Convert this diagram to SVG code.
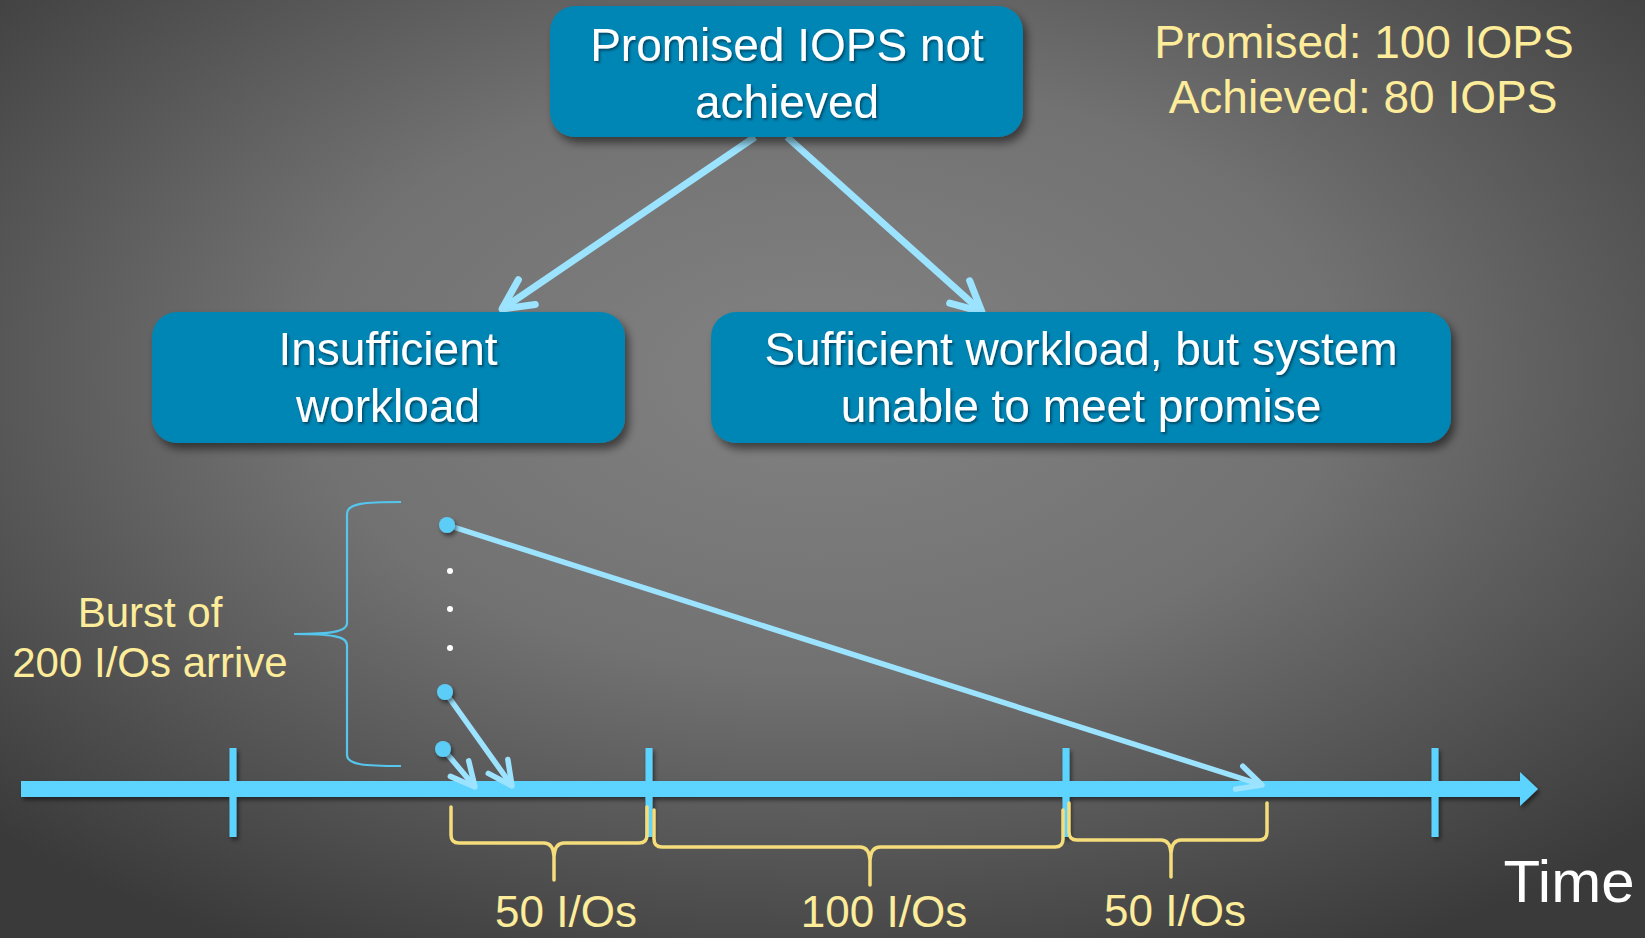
<svg xmlns="http://www.w3.org/2000/svg" width="1645" height="938" viewBox="0 0 1645 938">
<defs>
<radialGradient id="bg" cx="50%" cy="40%" r="70%">
<stop offset="0" stop-color="#828282"/>
<stop offset="0.45" stop-color="#727272"/>
<stop offset="1" stop-color="#3a3a3a"/>
</radialGradient>
<filter id="sh" x="-10%" y="-10%" width="125%" height="135%">
<feDropShadow dx="4" dy="6" stdDeviation="4" flood-color="#000" flood-opacity="0.5"/>
</filter>
<filter id="tsh" x="-5%" y="-10%" width="115%" height="130%">
<feDropShadow dx="1.5" dy="2" stdDeviation="1" flood-color="#002030" flood-opacity="0.6"/>
</filter>
<filter id="dsh" x="-50%" y="-50%" width="200%" height="200%">
<feDropShadow dx="2" dy="3" stdDeviation="2" flood-color="#000" flood-opacity="0.5"/>
</filter>
<marker id="ah" markerUnits="userSpaceOnUse" viewBox="-40 -25 50 50" markerWidth="50" markerHeight="50" refX="0" refY="0" orient="auto">
<path d="M-30,-15 L0,0 L-30,15" fill="none" stroke="#9be3ff" stroke-width="7" stroke-linecap="round" stroke-linejoin="round"/>
</marker>
<marker id="ahs" markerUnits="userSpaceOnUse" viewBox="-40 -25 50 50" markerWidth="50" markerHeight="50" refX="0" refY="0" orient="auto">
<path d="M-24,-12 L0,0 L-24,12" fill="none" stroke="#9be3ff" stroke-width="5.5" stroke-linecap="round" stroke-linejoin="round"/>
</marker>
</defs>
<style>
.box{fill:#0086b4;filter:url(#sh)}
.bt{font-family:"Liberation Sans",Arial,sans-serif;font-size:46px;fill:#ffffff;text-anchor:middle;filter:url(#tsh)}
.yt{font-family:"Liberation Sans",Arial,sans-serif;fill:#fdec9a;text-anchor:middle}
.conn{stroke:#9be3ff;stroke-width:7;fill:none}
.io{stroke:#9be3ff;stroke-width:5.5;fill:none}
.dot{fill:#5ccdf7;filter:url(#dsh)}
.sdot{fill:#ffffff}
.ybr{stroke:#f6dd7c;stroke-width:3.5;fill:none;stroke-linecap:round;stroke-linejoin:round}
.tick{stroke:#5dd3ff;stroke-width:7}
</style>
<rect x="0" y="0" width="1645" height="938" fill="url(#bg)"/>

<g id="connectors">
<line class="conn" x1="755" y1="137" x2="502" y2="309" marker-end="url(#ah)"/>
<line class="conn" x1="787" y1="137" x2="982" y2="312" marker-end="url(#ah)"/>
</g>

<g id="node-top">
<rect class="box" x="550" y="6" width="473" height="131" rx="25"/>
<text class="bt" x="787" y="61">Promised IOPS not</text>
<text class="bt" x="787" y="118">achieved</text>
</g>

<g id="node-insufficient">
<rect class="box" x="152" y="312" width="473" height="131" rx="25"/>
<text class="bt" x="388" y="365">Insufficient</text>
<text class="bt" x="388" y="422">workload</text>
</g>

<g id="node-sufficient">
<rect class="box" x="711" y="312" width="740" height="131" rx="25"/>
<text class="bt" x="1081" y="365">Sufficient workload, but system</text>
<text class="bt" x="1081" y="422">unable to meet promise</text>
</g>

<g id="summary">
<text class="yt" x="1364" y="58" font-size="46">Promised: 100 IOPS</text>
<text class="yt" x="1363" y="113" font-size="46">Achieved: 80 IOPS</text>
</g>

<g id="timeline" filter="url(#dsh)">
<rect x="21" y="781" width="1503" height="16" fill="#5dd3ff"/>
<polygon points="1520,772 1538,789 1520,806" fill="#5dd3ff"/>
<line class="tick" x1="233" y1="748" x2="233" y2="837"/>
<line class="tick" x1="649" y1="748" x2="649" y2="837"/>
<line class="tick" x1="1066" y1="748" x2="1066" y2="837"/>
<line class="tick" x1="1435" y1="748" x2="1435" y2="837"/>
</g>
<text x="1569" y="902" font-family="Liberation Sans, Arial, sans-serif" font-size="60" fill="#ffffff" text-anchor="middle">Time</text>

<g id="burst">
<path d="M401,502 C365,502 347,503 347,514 L347,623 C347,632 330,634 294,634 C330,634 347,636 347,645 L347,755 C347,765 365,766 401,766" fill="none" stroke="#55c6ee" stroke-width="2.2"/>
<text class="yt" x="150" y="627" font-size="42">Burst of</text>
<text class="yt" x="150" y="677" font-size="42">200 I/Os arrive</text>
<circle class="sdot" cx="450" cy="571" r="3"/>
<circle class="sdot" cx="450" cy="609" r="3"/>
<circle class="sdot" cx="450" cy="648" r="3"/>
<line class="io" x1="447" y1="525" x2="1262" y2="785" marker-end="url(#ahs)"/>
<line class="io" x1="445" y1="692" x2="512" y2="786" marker-end="url(#ahs)"/>
<line class="io" x1="443" y1="749" x2="475" y2="787" marker-end="url(#ahs)"/>
<circle class="dot" cx="447" cy="525" r="8"/>
<circle class="dot" cx="445" cy="692" r="8"/>
<circle class="dot" cx="443" cy="749" r="8"/>
</g>

<g id="braces">
<path class="ybr" d="M451,807 L451,835 Q451,843 459,843 L544,843 Q553,843 554,856 L554,880 M554,856 Q555,843 564,843 L639,843 Q647,843 647,835 L647,807"/>
<path class="ybr" d="M654,810 L654,839 Q654,847 662,847 L860,847 Q869,847 870,860 L870,885 M870,860 Q871,847 880,847 L1055,847 Q1063,847 1063,839 L1063,810"/>
<path class="ybr" d="M1069,803 L1069,832 Q1069,840 1077,840 L1161,840 Q1170,840 1171,853 L1171,877 M1171,853 Q1172,840 1181,840 L1259,840 Q1267,840 1267,832 L1267,803"/>
<text class="yt" x="566" y="927" font-size="44">50 I/Os</text>
<text class="yt" x="884" y="927" font-size="44">100 I/Os</text>
<text class="yt" x="1175" y="926" font-size="44">50 I/Os</text>
</g>
</svg>
